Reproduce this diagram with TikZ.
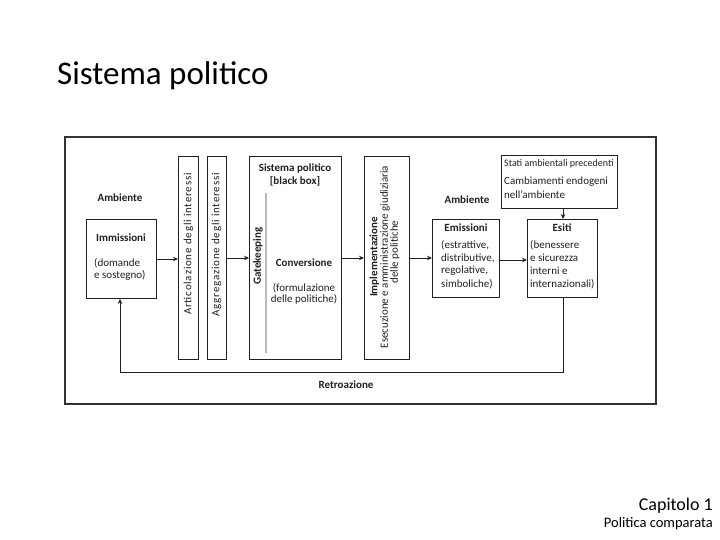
\documentclass[tikz,border=0pt]{standalone}
\usepackage{fontspec}
\setmainfont{Carlito}
\usetikzlibrary{arrows.meta}
\definecolor{ink}{HTML}{231F20}
\definecolor{frameink}{HTML}{333333}
\definecolor{gateline}{HTML}{BBBBBB}
\begin{document}
\begin{tikzpicture}[x=1pt,y=-1pt,
  box/.style={draw=ink, line width=0.9pt, inner sep=0pt, anchor=north west},
  lbl/.style={font=\fontsize{11}{13}\selectfont, text=ink, inner sep=0pt},
  sp/.style={font=\fontsize{11}{13}\selectfont\addfontfeature{LetterSpace=7}, text=ink, inner sep=0pt},
  bl/.style={font=\bfseries\fontsize{11}{13}\selectfont, text=ink, inner sep=0pt},
  arr/.style={draw=ink, line width=0.9pt, -{Stealth[length=5pt,width=4.5pt]}},
  conn/.style={draw=ink, line width=0.9pt}]
\useasboundingbox (0,0) rectangle (720,540);
\fill[white] (0,0) rectangle (720,540);

% titles
\node[anchor=base west, inner sep=0pt, font=\fontsize{33}{40}\selectfont] (title) at (57,85) {Sistema politico};
\node[anchor=base east, inner sep=0pt, font=\fontsize{18}{21}\selectfont] (cap) at (713,510) {Capitolo 1};
\node[anchor=base east, inner sep=0pt, font=\fontsize{14.5}{17}\selectfont] (libro) at (713,527) {Politica comparata};

% frame
\node[draw=frameink, line width=2pt, inner sep=0pt, anchor=north west, minimum width=591pt, minimum height=267pt] (frame) at (64,136) {};

% Immissioni
\node[bl] (amb1) at (120,198) {Ambiente};
\node[box, minimum width=70pt, minimum height=79pt] (imm) at (86,219) {};
\node[bl] (immt) at (121,238) {Immissioni};
\node[lbl, anchor=west] (imm1) at (94,263) {(domande};
\node[lbl, anchor=west] (imm2) at (94,275) {e sostegno)};

% bars
\node[box, minimum width=20pt, minimum height=203pt] (art) at (178,156) {};
\node[sp, rotate=90, anchor=east] (artt) at (188.5,173) {Articolazione degli interessi};
\node[box, minimum width=19pt, minimum height=203pt] (agg) at (207,156) {};
\node[sp, rotate=90, anchor=east] (aggt) at (216.5,173) {Aggregazione degli interessi};

% Sistema politico
\node[box, minimum width=92pt, minimum height=203pt] (sis) at (249,156) {};
\node[bl] (sist1) at (295,168) {Sistema politico};
\node[bl] (sist2) at (295,181) {[black box]};
\node[bl, rotate=90] (gate) at (258,256) {Gatekeeping};
\coordinate (g1) at (266,193);
\coordinate (g2) at (266,353);
\draw[gateline, line width=1.4pt] (g1) -- (g2);
\node[bl] (conv) at (304,263) {Conversione};
\node[lbl] (conv1) at (304,288) {(formulazione};
\node[lbl] (conv2) at (304,299) {delle politiche)};

% Implementazione
\node[box, minimum width=45pt, minimum height=203pt] (imp) at (364,156) {};
\node[bl, rotate=90] (impt) at (374.5,257) {Implementazione};
\node[lbl, rotate=90] (imp1) at (385,257) {Esecuzione e amministrazione giudiziaria};
\node[lbl, rotate=90] (imp2) at (395,252) {delle politiche};

% Emissioni
\node[bl] (amb2) at (467,200) {Ambiente};
\node[box, minimum width=67pt, minimum height=78pt] (emi) at (432,219) {};
\node[bl] (emit) at (466,228) {Emissioni};
\node[lbl, anchor=west] (emi1) at (441,245) {(estrattive,};
\node[lbl, anchor=west] (emi2) at (441,258) {distributive,};
\node[lbl, anchor=west] (emi3) at (441,271) {regolative,};
\node[lbl, anchor=west] (emi4) at (441,284) {simboliche)};

% Esiti
\node[box, minimum width=70pt, minimum height=78pt] (esi) at (527,219) {};
\node[bl] (esit) at (562,228) {Esiti};
\node[lbl, anchor=west] (esi1) at (530,245) {(benessere};
\node[lbl, anchor=west] (esi2) at (530,258) {e sicurezza};
\node[lbl, anchor=west] (esi3) at (530,271) {interni e};
\node[lbl, anchor=west] (esi4) at (530,284) {internazionali)};

% Stati ambientali
\node[box, minimum width=116pt, minimum height=53pt] (sta) at (501,155) {};
\node[lbl, anchor=west, font=\fontsize{10}{12}\selectfont] (sta1) at (504,164) {Stati ambientali precedenti};
\node[lbl, anchor=west] (sta2) at (504,182) {Cambiamenti endogeni};
\node[lbl, anchor=west] (sta3) at (504,195) {nell’ambiente};

% retroazione label
\node[bl] (retro) at (346,385) {Retroazione};

% connectors
\coordinate (ya) at (0,259);
\coordinate (yb) at (0,258);
\coordinate (yc) at (0,260);
\coordinate (xs) at (563,0);
\coordinate (xi) at (120,0);
\coordinate (fb) at (0,372);
\draw[arr] (imm.east |- ya) -- (art.west |- ya);
\draw[arr] (agg.east |- yb) -- (sis.west |- yb);
\draw[arr] (sis.east |- yb) -- (imp.west |- yb);
\draw[arr] (imp.east |- yb) -- (emi.west |- yb);
\draw[arr] (emi.east |- yc) -- (esi.west |- yc);
\draw[arr] (sta.south -| xs) -- (esi.north -| xs);
\draw[arr] (esi.south -| xs) -- (xs |- fb) -- (xi |- fb) -- (imm.south -| xi);
\end{tikzpicture}
\end{document}
